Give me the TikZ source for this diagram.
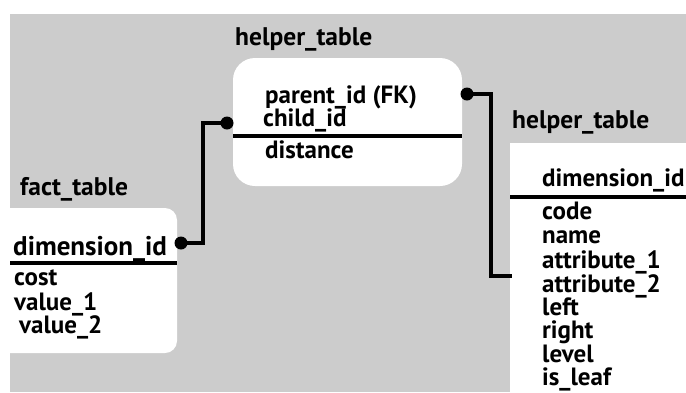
\documentclass[tikz,border=0pt]{standalone}
\usepackage{fontspec}
\setmainfont{PT Sans}
\definecolor{bggray}{HTML}{CCCCCC}
\begin{document}
\begin{tikzpicture}[x=1pt,y=-1pt,
  lbl/.style={anchor=base west,inner sep=0pt,font=\fontsize{25.5}{25.5}\selectfont\bfseries},
  itm/.style={anchor=base west,inner sep=0pt,font=\fontsize{25}{25}\selectfont\bfseries},
  sep/.style={line width=3.5pt},
  conn/.style={line width=3.5pt},
  dot/.style={fill=black}]
\useasboundingbox (0,0) rectangle (686,392);
\fill[white] (0,0) rectangle (686,392);
\fill[bggray] (10,14) rectangle (686,392);
% boxes
\fill[white,rounded corners=12pt] (-20,208) -- (177,208) -- (177,353) -- (-20,353) -- cycle;
\fill[white,rounded corners=22pt] (233,58) rectangle (462,186);
\fill[white] (510,143) rectangle (700,400);
% fact table
\node[lbl] (facttitle) at (20,195) {fact\_table};
\node[lbl,font=\fontsize{27}{27}\selectfont\bfseries] (factkey) at (13,255) {dimension\_id};
\draw[sep] (10,263) -- (177,263);
\node[itm] (cost) at (14,285) {cost};
\node[itm] (val1) at (14,310) {value\_1};
\node[itm] (val2) at (19,333) {value\_2};
% helper table
\node[lbl] (helpertitle) at (235,45) {helper\_table};
\node[itm] (parent) at (265,103) {parent\_id (FK)};
\node[itm] (child) at (263,126) {child\_id};
\draw[sep] (233,136) -- (462,136);
\node[itm] (dist) at (265,158) {distance};
% dimension table
\node[lbl] (dimtitle) at (512,128) {helper\_table};
\node[itm] (dimkey) at (542,186) {dimension\_id};
\draw[sep] (510,197) -- (686,197);
\node[itm] (code) at (542,219) {code};
\node[itm] (name) at (542,243) {name};
\node[itm] (attr1) at (542,268) {attribute\_1};
\node[itm] (attr2) at (542,292) {attribute\_2};
\node[itm] (left) at (542,315) {left};
\node[itm] (right) at (542,338) {right};
\node[itm] (level) at (542,362) {level};
\node[itm] (leaf) at (542,385) {is\_leaf};
% connectors
\coordinate (factdot) at (181,243);
\coordinate (helperdotL) at (227,123);
\coordinate (helperdotR) at (467,94);
\coordinate (dimend) at (512,276);
\draw[conn] (factdot) -- ++(22,0) |- (helperdotL);
\draw[conn] (helperdotR) -- ++(24,0) |- (dimend);
\fill[dot] (factdot) circle (6.5pt);
\fill[dot] (helperdotL) circle (6.5pt);
\fill[dot] (helperdotR) circle (6.5pt);
\end{tikzpicture}
\end{document}
